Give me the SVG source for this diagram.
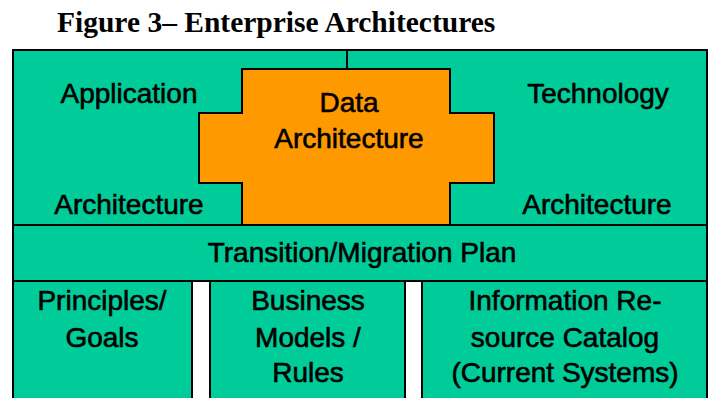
<svg xmlns="http://www.w3.org/2000/svg" width="709" height="398" viewBox="0 0 709 398">
<style>
.box{fill:#00CC99;stroke:#000;stroke-width:2}
.data{fill:#FF9900;stroke:#000;stroke-width:2}
.lbl{font-family:"Liberation Sans",Arial,sans-serif;font-size:28px;fill:#000;stroke:#000;stroke-width:0.6;text-anchor:middle}
.title{font-family:"Liberation Serif","Times New Roman",serif;font-size:29.5px;font-weight:bold;fill:#000}
</style>
<rect width="709" height="398" fill="#fff"/>
<text class="title" x="57" y="32">Figure 3– Enterprise Architectures</text>
<g id="top-frame">
<rect class="box" x="13" y="50" width="694" height="175"/>
</g>
<g id="connectors">
<line x1="347" y1="50" x2="347" y2="69" stroke="#000" stroke-width="2"/>
</g>
<g id="application">
<text class="lbl" x="129" y="103">Application</text>
<text class="lbl" x="129" y="214">Architecture</text>
</g>
<g id="technology">
<text class="lbl" x="598" y="103">Technology</text>
<text class="lbl" x="597" y="214">Architecture</text>
</g>
<g id="data-architecture">
<polygon class="data" points="242,69 450,69 450,113 494,113 494,183 450,183 450,225 242,225 242,183 199,183 199,113 242,113"/>
<text class="lbl" x="349" y="112">Data</text>
<text class="lbl" x="349" y="148">Architecture</text>
</g>
<g id="transition">
<rect class="box" x="13" y="225" width="694" height="56"/>
<text class="lbl" x="362" y="262">Transition/Migration Plan</text>
</g>
<g id="principles">
<rect class="box" x="13" y="281" width="179" height="125"/>
<text class="lbl" x="102" y="310">Principles/</text>
<text class="lbl" x="102" y="347">Goals</text>
</g>
<g id="business">
<rect class="box" x="210" y="281" width="195" height="125"/>
<text class="lbl" x="308" y="310">Business</text>
<text class="lbl" x="308" y="347">Models /</text>
<text class="lbl" x="308" y="382">Rules</text>
</g>
<g id="catalog">
<rect class="box" x="422" y="281" width="285" height="125"/>
<text class="lbl" x="565" y="310">Information Re-</text>
<text class="lbl" x="565" y="347">source Catalog</text>
<text class="lbl" x="565" y="382">(Current Systems)</text>
</g>
</svg>
